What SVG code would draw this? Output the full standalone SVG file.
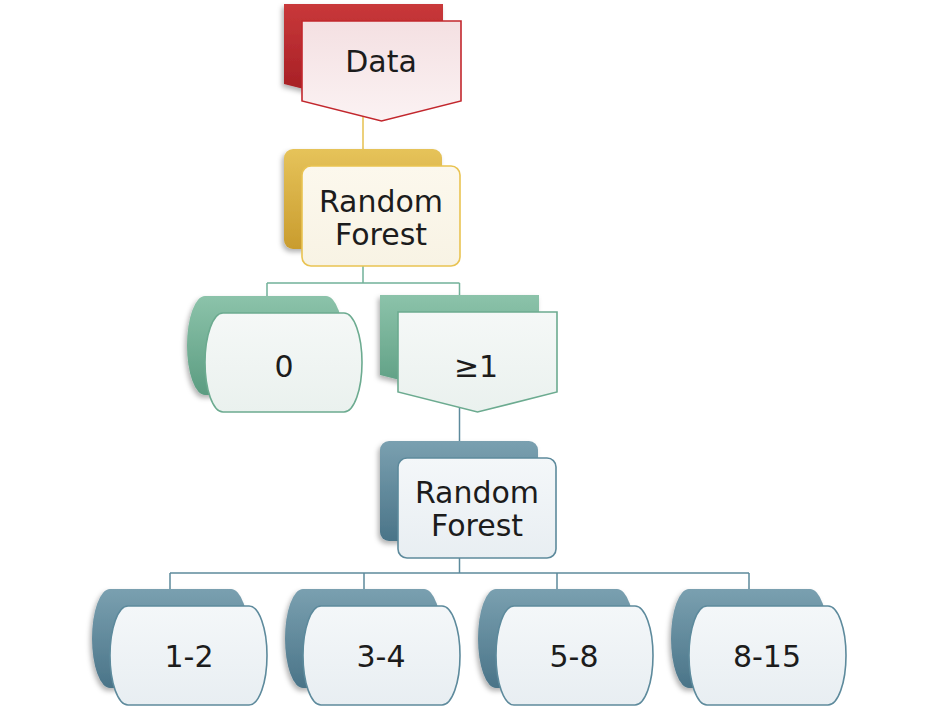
<svg xmlns="http://www.w3.org/2000/svg" width="936" height="707" viewBox="0 0 936 707">
<style>
  .lbl { font-family: "DejaVu Sans", "Liberation Sans", sans-serif; font-size: 30px; fill: #1c1c1c; text-anchor: middle; }
  .conn { fill: none; stroke-width: 1.5; }
  .front { stroke-width: 1.6; }
</style>
<defs>
  <path id="pent" d="M0,0 H159 V80 L79.5,100 L0,80 Z"/>
  <path id="rrect" d="M9,0 H149 A9,9 0 0 1 158,9 V91 A9,9 0 0 1 149,100 H9 A9,9 0 0 1 0,91 V9 A9,9 0 0 1 9,0 Z"/>
  <path id="cap" d="M18,0 H139 A18,49.5 0 0 1 139,99 H18 A18,49.5 0 0 1 18,0 Z"/>
  <linearGradient id="gRed" x1="0" y1="0" x2="0" y2="1"><stop offset="0" stop-color="#c9383a"/><stop offset="1" stop-color="#a11c22"/></linearGradient>
  <linearGradient id="gGold" x1="0" y1="0" x2="0" y2="1"><stop offset="0" stop-color="#e6c35a"/><stop offset="1" stop-color="#c99c2e"/></linearGradient>
  <linearGradient id="gGreen" x1="0" y1="0" x2="0" y2="1"><stop offset="0" stop-color="#8cc3aa"/><stop offset="1" stop-color="#5b9c81"/></linearGradient>
  <linearGradient id="gBlue" x1="0" y1="0" x2="0" y2="1"><stop offset="0" stop-color="#7aa0b0"/><stop offset="1" stop-color="#4a7488"/></linearGradient>
  <linearGradient id="fRed" x1="0" y1="0" x2="0" y2="1"><stop offset="0" stop-color="#f4e0e2"/><stop offset="1" stop-color="#fbf2f3"/></linearGradient>
  <linearGradient id="fGold" x1="0" y1="0" x2="0" y2="1"><stop offset="0" stop-color="#fcf8ed"/><stop offset="1" stop-color="#f8f3e4"/></linearGradient>
  <linearGradient id="fGreen" x1="0" y1="0" x2="0" y2="1"><stop offset="0" stop-color="#f5f8f7"/><stop offset="1" stop-color="#eaf1ee"/></linearGradient>
  <linearGradient id="fBlue" x1="0" y1="0" x2="0" y2="1"><stop offset="0" stop-color="#f4f7f9"/><stop offset="1" stop-color="#e8eef2"/></linearGradient>
  <filter id="sh" x="-10%" y="-10%" width="125%" height="130%">
    <feDropShadow dx="-2" dy="3" stdDeviation="2.5" flood-color="#000" flood-opacity="0.3"/>
  </filter>
</defs>

<g id="connectors">
  <path class="conn" stroke="#e6c04f" d="M363,104 V150"/>
  <path class="conn" stroke="#72b199" d="M363,250 V283 M267,283 H459.5 M267,283 V296 M459.5,283 V295"/>
  <path class="conn" stroke="#5d8a9c" d="M459.5,395 V441"/>
  <path class="conn" stroke="#5d8a9c" d="M459.5,541 V573 M170,573 H749 M170,573 V589 M364,573 V589 M557,573 V589 M749,573 V589"/>
</g>

<g id="node-data">
  <use href="#pent" transform="translate(284,4)" fill="url(#gRed)" filter="url(#sh)"/>
  <use href="#pent" class="front" transform="translate(302,21)" fill="url(#fRed)" stroke="#c2272d"/>
  <text class="lbl" x="381" y="72">Data</text>
</g>

<g id="node-rf1">
  <use href="#rrect" transform="translate(284,149)" fill="url(#gGold)" filter="url(#sh)"/>
  <use href="#rrect" class="front" transform="translate(302,166)" fill="url(#fGold)" stroke="#e9c352"/>
  <text class="lbl" x="381" y="212">Random</text>
  <text class="lbl" x="381" y="245">Forest</text>
</g>

<g id="node-0">
  <use href="#cap" transform="translate(187,296)" fill="url(#gGreen)" filter="url(#sh)"/>
  <use href="#cap" class="front" transform="translate(205,313)" fill="url(#fGreen)" stroke="#6cab90"/>
  <text class="lbl" x="284" y="377">0</text>
</g>

<g id="node-ge1">
  <use href="#pent" transform="translate(380,295)" fill="url(#gGreen)" filter="url(#sh)"/>
  <use href="#pent" class="front" transform="translate(398,312)" fill="url(#fGreen)" stroke="#6cab90"/>
  <text class="lbl" x="476" y="377">≥1</text>
</g>

<g id="node-rf2">
  <use href="#rrect" transform="translate(380,441)" fill="url(#gBlue)" filter="url(#sh)"/>
  <use href="#rrect" class="front" transform="translate(398,458)" fill="url(#fBlue)" stroke="#5d8a9c"/>
  <text class="lbl" x="477" y="503">Random</text>
  <text class="lbl" x="477" y="536">Forest</text>
</g>

<g id="node-1-2">
  <use href="#cap" transform="translate(92,589)" fill="url(#gBlue)" filter="url(#sh)"/>
  <use href="#cap" class="front" transform="translate(110,606)" fill="url(#fBlue)" stroke="#5d8a9c"/>
  <text class="lbl" x="189" y="667">1-2</text>
</g>

<g id="node-3-4">
  <use href="#cap" transform="translate(285,589)" fill="url(#gBlue)" filter="url(#sh)"/>
  <use href="#cap" class="front" transform="translate(303,606)" fill="url(#fBlue)" stroke="#5d8a9c"/>
  <text class="lbl" x="381" y="667">3-4</text>
</g>

<g id="node-5-8">
  <use href="#cap" transform="translate(478,589)" fill="url(#gBlue)" filter="url(#sh)"/>
  <use href="#cap" class="front" transform="translate(496,606)" fill="url(#fBlue)" stroke="#5d8a9c"/>
  <text class="lbl" x="574" y="667">5-8</text>
</g>

<g id="node-8-15">
  <use href="#cap" transform="translate(671,589)" fill="url(#gBlue)" filter="url(#sh)"/>
  <use href="#cap" class="front" transform="translate(689,606)" fill="url(#fBlue)" stroke="#5d8a9c"/>
  <text class="lbl" x="767" y="667">8-15</text>
</g>
</svg>
